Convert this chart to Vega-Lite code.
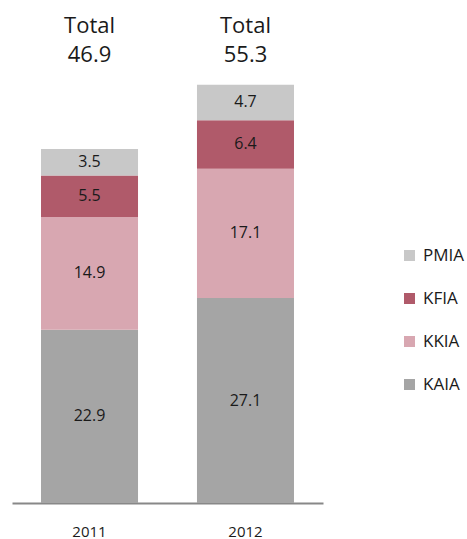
{
  "$schema": "https://vega.github.io/schema/vega-lite/v6.json",
  "width": 311,
  "height": 503,
  "autosize": "none",
  "padding": {"left": 12, "top": 0, "right": 144, "bottom": 36},
  "background": "white",
  "config": {
    "view": {"stroke": null},
    "font": "Open Sans",
    "text": {"font": "Open Sans", "color": "#1a1a1a"}
  },
  "datasets": {
    "segments": [
      {"year": "2011", "airport": "KAIA", "rank": 1, "value": 22.9},
      {"year": "2011", "airport": "KKIA", "rank": 2, "value": 14.9},
      {"year": "2011", "airport": "KFIA", "rank": 3, "value": 5.5},
      {"year": "2011", "airport": "PMIA", "rank": 4, "value": 3.5},
      {"year": "2012", "airport": "KAIA", "rank": 1, "value": 27.1},
      {"year": "2012", "airport": "KKIA", "rank": 2, "value": 17.1},
      {"year": "2012", "airport": "KFIA", "rank": 3, "value": 6.4},
      {"year": "2012", "airport": "PMIA", "rank": 4, "value": 4.7}
    ],
    "totals": [
      {"year": "2011", "total": 46.9},
      {"year": "2012", "total": 55.3}
    ]
  },
  "encoding": {
    "x": {
      "field": "year",
      "type": "nominal",
      "scale": {"paddingInner": 0.378, "paddingOuter": 0.186},
      "axis": {
        "title": null,
        "orient": "bottom",
        "ticks": false,
        "labelAngle": 0,
        "labelFontSize": 15,
        "labelColor": "#1a1a1a",
        "labelPadding": 21,
        "labelFont": "Open Sans",
        "domainColor": "#888888",
        "domainWidth": 2
      }
    }
  },
  "layer": [
    {
      "data": {"name": "segments"},
      "mark": {"type": "bar"},
      "encoding": {
        "y": {
          "field": "value",
          "type": "quantitative",
          "stack": "zero",
          "scale": {"domain": [0, 66.5], "nice": false},
          "axis": null
        },
        "order": {"field": "rank", "type": "quantitative", "sort": "ascending"},
        "color": {
          "field": "airport",
          "type": "nominal",
          "scale": {
            "domain": ["PMIA", "KFIA", "KKIA", "KAIA"],
            "range": ["#c8c8c8", "#b05a6a", "#d8a7b1", "#a5a5a5"]
          },
          "legend": {
            "title": null,
            "orient": "none",
            "legendX": 389,
            "legendY": 247,
            "symbolType": "square",
            "symbolSize": 121,
            "symbolStrokeWidth": 0,
            "labelFontSize": 17,
            "labelFont": "Open Sans",
            "labelColor": "#1a1a1a",
            "labelOffset": 5,
            "rowPadding": 25
          }
        }
      }
    },
    {
      "data": {"name": "segments"},
      "transform": [
        {"stack": "value", "groupby": ["year"], "sort": [{"field": "rank", "order": "ascending"}], "as": ["lo", "hi"]},
        {"fold": ["lo", "hi"], "as": ["edge", "pos"]},
        {"aggregate": [{"op": "mean", "field": "pos", "as": "mid"}, {"op": "max", "field": "value", "as": "value"}], "groupby": ["year", "airport"]}
      ],
      "mark": {"type": "text", "fontSize": 16, "baseline": "middle", "align": "center"},
      "encoding": {
        "y": {"field": "mid", "type": "quantitative", "scale": {"domain": [0, 66.5], "nice": false}},
        "text": {"field": "value", "type": "quantitative", "format": ".1f"}
      }
    },
    {
      "data": {"name": "totals"},
      "mark": {"type": "text", "fontSize": 22, "baseline": "alphabetic", "align": "center", "text": "Total"},
      "encoding": {
        "y": {"datum": 62.2, "type": "quantitative"}
      }
    },
    {
      "data": {"name": "totals"},
      "mark": {"type": "text", "fontSize": 22, "baseline": "alphabetic", "align": "center"},
      "encoding": {
        "y": {"datum": 58.3, "type": "quantitative"},
        "text": {"field": "total", "type": "quantitative", "format": ".1f"}
      }
    }
  ]
}
